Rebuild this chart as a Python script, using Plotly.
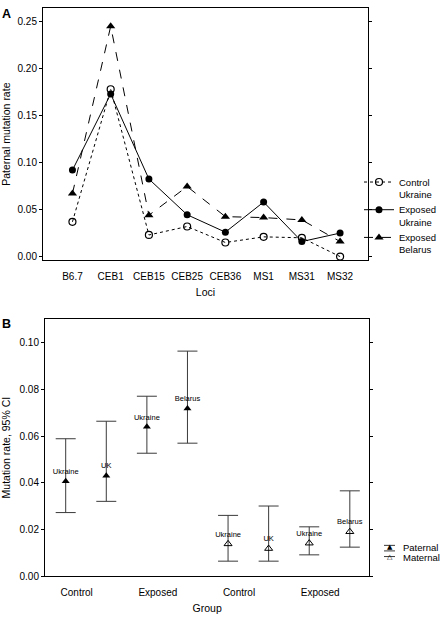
import plotly.graph_objects as go
import numpy as np

# ---------------- Panel A data ----------------
loci = ["B6.7", "CEB1", "CEB15", "CEB25", "CEB36", "MS1", "MS31", "MS32"]
control_ukraine = [0.037, 0.178, 0.023, 0.032, 0.015, 0.021, 0.020, 0.000]
exposed_ukraine = [0.092, 0.173, 0.0825, 0.0445, 0.026, 0.058, 0.016, 0.025]
exposed_belarus = [0.067, 0.245, 0.044, 0.0745, 0.0425, 0.0415, 0.039, 0.016]
a_yticks = [0.00, 0.05, 0.10, 0.15, 0.20, 0.25]

# ---------------- Panel B data ----------------
group_ticks = ["Control", "Exposed", "Control", "Exposed"]
populations = ["Ukraine", "UK", "Ukraine", "Belarus"]
paternal_rate = [0.0407, 0.0431, 0.0640, 0.0718]
paternal_low = [0.0273, 0.0321, 0.0527, 0.0570]
paternal_high = [0.0589, 0.0664, 0.0771, 0.0964]
maternal_rate = [0.0139, 0.0119, 0.0142, 0.0191]
maternal_low = [0.0065, 0.0065, 0.0092, 0.0125]
maternal_high = [0.0261, 0.0301, 0.0212, 0.0366]
b_yticks = [0.00, 0.02, 0.04, 0.06, 0.08, 0.10]
b_legend = ["Paternal", "Maternal"]

FONT = "Liberation Sans, Arial, sans-serif"
W, H = 441, 619


def px(x):
    return x / W


def py(y):
    return 1 - y / H


fig = go.Figure()

# Panel A traces
fig.add_trace(go.Scatter(
    x=loci, y=control_ukraine, mode="lines+markers", name="Control<br>Ukraine",
    line=dict(color="black", width=1, dash="dot"),
    marker=dict(symbol="circle-open", size=7, color="black", line=dict(width=1.2)),
    xaxis="x", yaxis="y", legend="legend"))
fig.add_trace(go.Scatter(
    x=loci, y=exposed_ukraine, mode="lines+markers", name="Exposed<br>Ukraine",
    line=dict(color="black", width=1),
    marker=dict(symbol="circle", size=7, color="black"),
    xaxis="x", yaxis="y", legend="legend"))
fig.add_trace(go.Scatter(
    x=loci, y=exposed_belarus, mode="lines+markers", name="Exposed<br>Belarus",
    line=dict(color="black", width=1, dash="dash"),
    marker=dict(symbol="triangle-up", size=8, color="black"),
    xaxis="x", yaxis="y", legend="legend"))

# Panel B traces
n = len(populations)
xp = np.arange(n)
xm = np.arange(n) + n
err_style = dict(type="data", symmetric=False, color="#3a3a3a", thickness=1, width=10)
fig.add_trace(go.Scatter(
    x=xp, y=paternal_rate, mode="markers+text", name=b_legend[0],
    text=populations, textposition="top center",
    textfont=dict(size=7.5, family=FONT, color="black"),
    marker=dict(symbol="triangle-up", size=7, color="black"),
    error_y=dict(err_style,
                 array=np.array(paternal_high) - np.array(paternal_rate),
                 arrayminus=np.array(paternal_rate) - np.array(paternal_low)),
    xaxis="x2", yaxis="y2", showlegend=False))
fig.add_trace(go.Scatter(
    x=xm, y=maternal_rate, mode="markers+text", name=b_legend[1],
    text=populations, textposition="top center",
    textfont=dict(size=7.5, family=FONT, color="black"),
    marker=dict(symbol="triangle-up-open", size=7, color="black", line=dict(width=1)),
    error_y=dict(err_style,
                 array=np.array(maternal_high) - np.array(maternal_rate),
                 arrayminus=np.array(maternal_rate) - np.array(maternal_low)),
    xaxis="x2", yaxis="y2", showlegend=False))

axis_common = dict(showline=True, linecolor="black", linewidth=1,
                   showgrid=False, zeroline=False,
                   tickfont=dict(size=10, family=FONT, color="black"))
xaxis_common = dict(axis_common, mirror=True, ticks="outside", ticklen=7,
                    tickcolor="rgba(0,0,0,0)")
yaxis_common = dict(axis_common, mirror="ticks", ticks="outside", ticklen=3,
                    tickcolor="black", tickformat=".2f")

b_tickvals = [2 * i + 0.27 for i in range(len(group_ticks))]

# Panel labels
annotations = [
    dict(text="<b>A</b>", x=px(0), y=py(14), xref="paper", yref="paper",
         xanchor="left", yanchor="middle", showarrow=False, font=dict(size=12.5)),
    dict(text="<b>B</b>", x=px(0), y=py(327.5), xref="paper", yref="paper",
         xanchor="left", yanchor="middle", showarrow=False, font=dict(size=12.5)),
]

# Legend for panel B (symbol with confidence-interval caps)
leg_sym = ["▲", "△"]
leg_y = [553.3, 563.0]
for name, sym, yy in zip(b_legend, leg_sym, leg_y):
    annotations.append(dict(text=name, x=px(401), y=py(yy), xref="paper", yref="paper",
                            xanchor="left", yanchor="middle", showarrow=False,
                            font=dict(size=9.5, family=FONT)))
    annotations.append(dict(text=sym, x=px(389.5), y=py(yy - 0.5), xref="paper", yref="paper",
                            xanchor="center", yanchor="middle", showarrow=False,
                            font=dict(size=7, family="DejaVu Sans")))
shapes = []
for yy in [550.7, 556.3, 562.0]:
    shapes.append(dict(type="line", xref="paper", yref="paper",
                       x0=px(384), x1=px(395), y0=py(yy), y1=py(yy),
                       line=dict(color="#3a3a3a", width=1)))

fig.update_layout(
    width=W, height=H,
    margin=dict(l=0, r=0, t=0, b=0),
    paper_bgcolor="white", plot_bgcolor="white",
    font=dict(family=FONT, color="black", size=10),
    xaxis=dict(xaxis_common, domain=[px(43), px(368)], anchor="y",
               type="category", range=[-0.77, 7.73],
               title=dict(text="Loci", font=dict(size=10.5), standoff=7)),
    yaxis=dict(yaxis_common, domain=[py(263), py(8)], anchor="x",
               range=[-0.0041, 0.2645], tickvals=a_yticks,
               title=dict(text="Paternal mutation rate", font=dict(size=10.5), standoff=8)),
    xaxis2=dict(xaxis_common, domain=[px(45), px(369.3)], anchor="y2",
                range=[-0.51, 7.48], tickvals=b_tickvals, ticktext=group_ticks,
                title=dict(text="Group", font=dict(size=10.5), standoff=7)),
    yaxis2=dict(yaxis_common, domain=[py(582), py(322)], anchor="x2",
                range=[0, 0.1102], tickvals=b_yticks,
                title=dict(text="Mutation rate, 95% CI", font=dict(size=10.5), standoff=8)),
    legend=dict(x=px(359), y=py(171), xanchor="left", yanchor="top",
                bgcolor="rgba(0,0,0,0)", borderwidth=0, valign="top",
                font=dict(size=9.5, family=FONT), tracegroupgap=0),
    annotations=annotations,
    shapes=shapes,
)

fig.write_html("out.html", config={"displayModeBar": False},
               post_script="document.body.style.margin='0';")
